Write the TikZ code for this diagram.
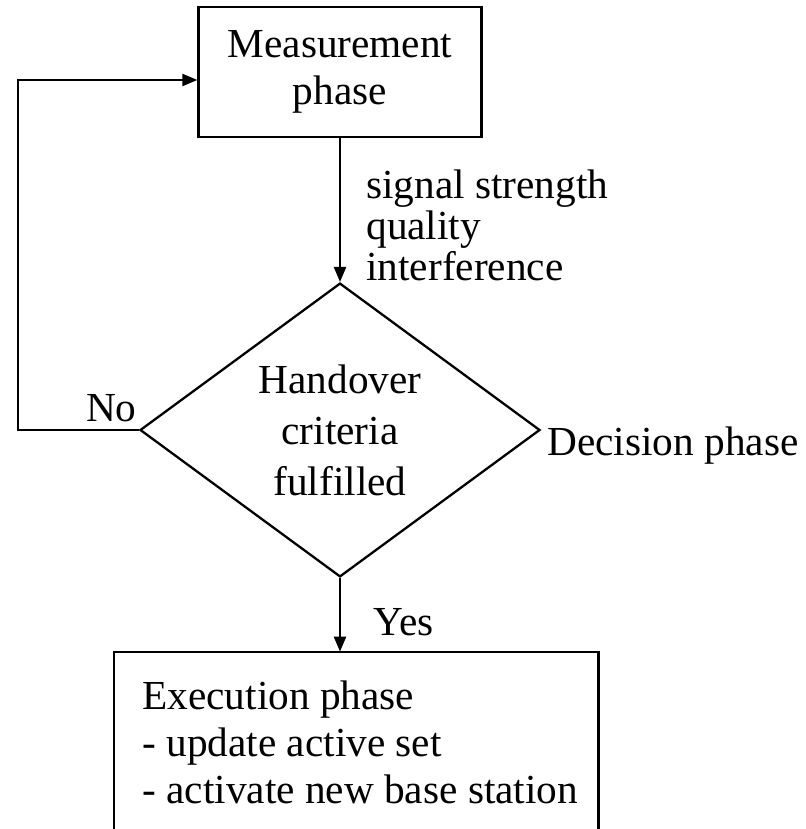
\documentclass[tikz,border=0pt]{standalone}
\usepackage{fontspec}
\setmainfont{Liberation Serif}
\usepackage{tikz}
\usetikzlibrary{positioning, shapes.geometric, arrows.meta}

\begin{document}
\begin{tikzpicture}[
  phasebox/.style={draw, line width=1.3pt, align=center, inner sep=0pt,
    font=\fontsize{23.5}{26.7}\selectfont},
  decision/.style={draw, diamond, line width=1.3pt, align=center, inner sep=0pt,
    minimum width=8cm, minimum height=5.46cm, font=\fontsize{23.5}{29}\selectfont},
  plabel/.style={inner sep=0pt, font=\fontsize{23.5}{23.6}\selectfont},
  flow/.style={->, line width=1.3pt},
  >={Triangle[length=3mm, width=2.4mm]}
]
\useasboundingbox (0,0) rectangle (16.12,-16.58);

% Measurement box
\node[phasebox, minimum width=5.66cm, minimum height=2.6cm] (meas) at (6.8,-1.44) {Measurement\\phase};

% Decision diamond
\node[decision] (dec) at (6.8,-8.6) {Handover\\criteria\\fulfilled};
\node[plabel, anchor=base west] (decname) at (10.94,-9.10) {Decision phase};

% Execution box (open at the bottom)
\node[minimum width=9.68cm, minimum height=3.54cm, inner sep=0pt] (execbox) at (7.12,-14.81) {};
\draw[line width=1.3pt] (execbox.south west) |- (execbox.north east) -- (execbox.south east);
\node[plabel, anchor=north west, align=left, font=\fontsize{23.5}{27}\selectfont] (exec) at (2.84,-13.6)
  {Execution phase\\- update active set\\- activate new base station};

% Arrows
\draw[flow] (meas.south -| dec.north) -- (dec.north);
\node[plabel, anchor=north west, align=left] (meas2dec) at (7.32,-3.38)
  {signal strength\\quality\\interference};
\draw[flow] (dec.south) -- (dec.south |- execbox.north);
\node[plabel, anchor=base west] (yes) at (7.46,-12.70) {Yes};

% Loop back when criteria not met
\coordinate (fb) at (0.36,-8.64);
\draw[flow] (dec.west) -- (dec.west -| fb) |- ([yshift=-0.16cm]meas.west);
\node[plabel, anchor=base east] (no) at (2.74,-8.42) {No};

\end{tikzpicture}
\end{document}
